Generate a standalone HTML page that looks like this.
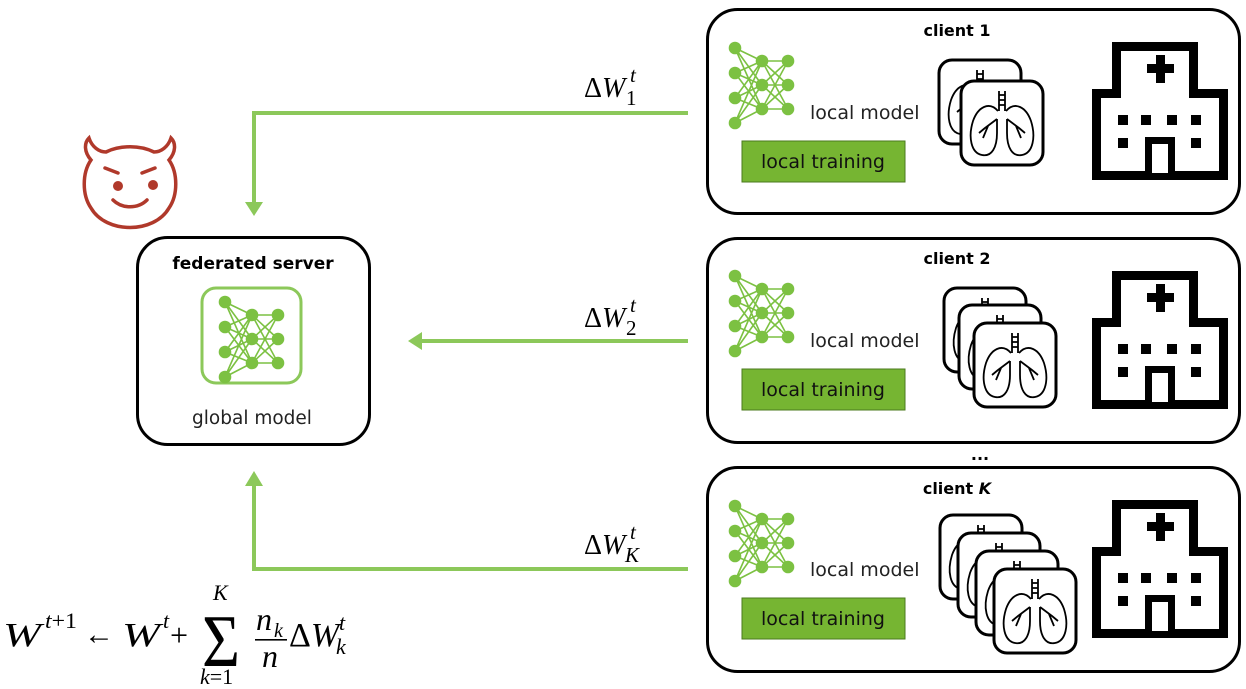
<!DOCTYPE html>
<html><head><meta charset="utf-8"><style>
html,body{margin:0;padding:0;background:#fff;width:1246px;height:689px;overflow:hidden}
svg{display:block}
.s{font-family:"DejaVu Sans","Liberation Sans",sans-serif}
.m{font-family:"Liberation Serif","DejaVu Serif",serif;font-style:italic}
</style></head><body>
<svg width="1246" height="689" viewBox="0 0 1246 689" xmlns="http://www.w3.org/2000/svg">
<defs>
<g id="nn" stroke="#7cc142" stroke-width="1.6" fill="#7cc142">
  <g fill="none">
  <path d="M0 0L27 13M0 0L27 37M0 0L27 61M0 25L27 13M0 25L27 37M0 25L27 61M0 50L27 13M0 50L27 37M0 50L27 61M0 75L27 13M0 75L27 37M0 75L27 61M27 13L53 13M27 13L53 37M27 13L53 61M27 37L53 13M27 37L53 37M27 37L53 61M27 61L53 13M27 61L53 37M27 61L53 61"/>
  </g>
  <circle cx="0" cy="0" r="5.5"/><circle cx="0" cy="25" r="5.5"/><circle cx="0" cy="50" r="5.5"/><circle cx="0" cy="75" r="5.5"/>
  <circle cx="27" cy="13" r="5.5"/><circle cx="27" cy="37" r="5.5"/><circle cx="27" cy="61" r="5.5"/>
  <circle cx="53" cy="13" r="5.5"/><circle cx="53" cy="37" r="5.5"/><circle cx="53" cy="61" r="5.5"/>
</g>
<g id="card">
  <rect x="0" y="0" width="82" height="84" rx="13" fill="#fff" stroke="#000" stroke-width="3"/>
  <g fill="none" stroke="#000" stroke-width="1.8">
  <path d="M38 10V30M44 10V30M38 14H44M38 19H44M38 24H44"/>
  <path d="M37 30C28 20 17 26 12 40C7 56 10 72 21 74C31 76 36 66 36 52V38"/>
  <path d="M45 30C54 20 65 26 70 40C75 56 72 72 61 74C51 76 46 66 46 52V38"/>
  <path d="M36 38L24 47M27 45L22 57M46 38L58 47M55 45L60 57M24 47L18 52M58 47L64 52"/>
  </g>
</g>
<g id="hosp">
  <path d="M406 34H492V81H522V172H386V81H406Z" fill="#000"/>
  <path d="M415 43H483V90H513V163H395V90H415Z" fill="#fff"/>
  <rect x="450" y="47" width="9" height="28" fill="#000"/>
  <rect x="441" y="56" width="27" height="9" fill="#000"/>
  <rect x="412" y="107" width="10" height="10" fill="#000"/>
  <rect x="435" y="107" width="10" height="10" fill="#000"/>
  <rect x="461" y="107" width="10" height="10" fill="#000"/>
  <rect x="485" y="107" width="10" height="10" fill="#000"/>
  <rect x="412" y="130" width="10" height="10" fill="#000"/>
  <rect x="485" y="130" width="10" height="10" fill="#000"/>
  <rect x="439" y="129" width="30" height="36" fill="#000"/>
  <rect x="446" y="136" width="16" height="29" fill="#fff"/>
</g>
</defs>

<!-- client 1 -->
<g transform="translate(706,8)">
  <rect x="1.5" y="1.5" width="532" height="204" rx="30" fill="#fff" stroke="#000" stroke-width="3"/>
  <text x="251" y="28" class="s" font-size="16" font-weight="bold" text-anchor="middle">client 1</text>
  <use href="#nn" x="29" y="40"/>
  <text x="104" y="111" class="s" font-size="19" fill="#222">local model</text>
  <rect x="36" y="133" width="163" height="41" fill="#76b532" stroke="#4b7a1e" stroke-width="1"/>
  <text x="117" y="160" class="s" font-size="19" text-anchor="middle" fill="#111">local training</text>
  <use href="#card" x="233" y="52"/>
  <use href="#card" x="255" y="73"/>
  <use href="#hosp"/>
</g>
<!-- client 2 -->
<g transform="translate(706,237)">
  <rect x="1.5" y="1.5" width="532" height="204" rx="30" fill="#fff" stroke="#000" stroke-width="3"/>
  <text x="251" y="27" class="s" font-size="16" font-weight="bold" text-anchor="middle">client 2</text>
  <use href="#nn" x="29" y="39"/>
  <text x="104" y="110" class="s" font-size="19" fill="#222">local model</text>
  <rect x="36" y="132" width="163" height="41" fill="#76b532" stroke="#4b7a1e" stroke-width="1"/>
  <text x="117" y="159" class="s" font-size="19" text-anchor="middle" fill="#111">local training</text>
  <use href="#card" x="238" y="51"/>
  <use href="#card" x="253" y="68"/>
  <use href="#card" x="268" y="86"/>
  <use href="#hosp"/>
</g>
<text x="980" y="460" class="s" font-size="16" font-weight="bold" text-anchor="middle">...</text>
<!-- client K -->
<g transform="translate(706,466)">
  <rect x="1.5" y="1.5" width="532" height="204" rx="30" fill="#fff" stroke="#000" stroke-width="3"/>
  <text x="251" y="28" class="s" font-size="16" font-weight="bold" text-anchor="middle">client <tspan font-style="italic">K</tspan></text>
  <use href="#nn" x="29" y="40"/>
  <text x="104" y="110" class="s" font-size="19" fill="#222">local model</text>
  <rect x="36" y="132" width="163" height="41" fill="#76b532" stroke="#4b7a1e" stroke-width="1"/>
  <text x="117" y="159" class="s" font-size="19" text-anchor="middle" fill="#111">local training</text>
  <use href="#card" x="234" y="49"/>
  <use href="#card" x="252" y="67"/>
  <use href="#card" x="270" y="85"/>
  <use href="#card" x="288" y="103"/>
  <use href="#hosp"/>
</g>

<!-- arrows -->
<g stroke="#8cc85a" stroke-width="4" fill="none">
  <path d="M688 113H254V204"/>
  <path d="M688 341H420"/>
  <path d="M688 569H254V484"/>
</g>
<g fill="#8cc85a">
  <path d="M245 202H263L254 216Z"/>
  <path d="M422 332V350L408 341Z"/>
  <path d="M245 486H263L254 471Z"/>
</g>

<!-- labels -->
<g class="m" font-size="28" fill="#000">
  <text x="584" y="97"><tspan font-style="normal">Δ</tspan>W</text>
  <text x="630" y="82" font-size="21">t</text><text x="626" y="105" font-size="21" font-style="normal">1</text>
  <text x="584" y="327"><tspan font-style="normal">Δ</tspan>W</text>
  <text x="630" y="312" font-size="21">t</text><text x="626" y="335" font-size="21" font-style="normal">2</text>
  <text x="584" y="554"><tspan font-style="normal">Δ</tspan>W</text>
  <text x="630" y="539" font-size="21">t</text><text x="625" y="562" font-size="21">K</text>
</g>

<!-- server -->
<rect x="137.5" y="237.5" width="232" height="207" rx="30" fill="#fff" stroke="#000" stroke-width="3"/>
<text x="253" y="269" class="s" font-size="17" font-weight="bold" text-anchor="middle">federated server</text>
<rect x="202" y="288" width="99" height="95" rx="14" fill="#fff" stroke="#8cc85a" stroke-width="3"/>
<use href="#nn" x="225" y="302"/>
<text x="252" y="424" class="s" font-size="18.5" text-anchor="middle" fill="#222">global model</text>

<!-- devil -->
<g fill="none" stroke="#b0392b" stroke-width="3.5" stroke-linecap="round">
  <path d="M91 160C84 152 84 143 89 138C92 147 99 152 106 152C120 145 140 145 154 152C161 152 168 147 171 138C176 143 176 152 169 160C178 173 178 195 169 208C154 234 106 234 91 208C82 195 82 173 91 160Z"/>
  <path d="M105 168L118 173M155 168L142 173"/>
  <path d="M113 200C122 209 138 209 147 200"/>
</g>
<circle cx="118" cy="186" r="5" fill="#b0392b"/>
<circle cx="153" cy="185" r="5" fill="#b0392b"/>

<!-- formula -->
<g class="m" font-size="34" fill="#000">
  <text x="3" y="646" textLength="38" lengthAdjust="spacingAndGlyphs">W</text>
  <text x="45" y="628" font-size="22" textLength="32" lengthAdjust="spacingAndGlyphs">t<tspan font-style="normal">+1</tspan></text>
  <text x="84" y="644" font-size="30" font-style="normal">←</text>
  <text x="122" y="646" textLength="38" lengthAdjust="spacingAndGlyphs">W</text>
  <text x="163" y="628" font-size="22">t</text>
  <text x="170" y="646" font-size="32" font-style="normal">+</text>
  <text transform="translate(202,666) scale(1,1.55)" font-size="48" font-style="normal" textLength="38" lengthAdjust="spacingAndGlyphs">Σ</text>
  <text x="213" y="600" font-size="22">K</text>
  <text x="200" y="684" font-size="22">k<tspan font-style="normal">=1</tspan></text>
  <text x="256" y="630" font-size="32">n</text><text x="274" y="637" font-size="20">k</text>
  <rect x="255" y="639" width="32" height="1.6" fill="#000"/>
  <text x="262" y="667" font-size="32">n</text>
  <text x="289" y="646"><tspan font-style="normal">Δ</tspan>W</text>
  <text x="339" y="630" font-size="22">t</text><text x="336" y="654" font-size="22">k</text>
</g>
</svg>
</body></html>
